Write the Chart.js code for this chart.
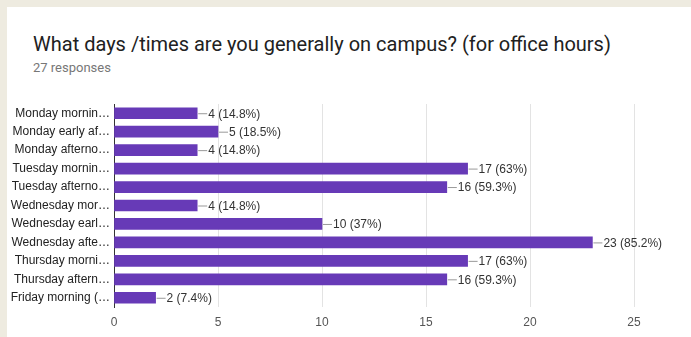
<!DOCTYPE html>
<html lang="en">
<head>
  <meta charset="UTF-8">
  <title>What days /times are you generally on campus?</title>
  <script src="https://cdn.jsdelivr.net/npm/chart.js"></script>
  <style>
    body {
      margin: 0;
      width: 691px;
      height: 337px;
      background-color: #eeebe0;
      overflow: hidden;
      position: relative;
    }
    .card {
      position: absolute;
      left: 7px;
      top: 7px;
      width: 684px;
      height: 330px;
      background: #fff;
    }
    .title {
      position: absolute;
      left: 33px;
      top: 32px;
      font-family: Roboto, sans-serif;
      font-size: 20px;
      color: #212121;
      white-space: nowrap;
    }
    .subtitle {
      position: absolute;
      left: 33px;
      top: 60px;
      font-family: Roboto, sans-serif;
      font-size: 13px;
      color: #777;
    }
    #chartWrap {
      position: absolute;
      left: 0;
      top: 0;
      width: 691px;
      height: 337px;
    }
  </style>
</head>
<body>
  <div class="card"></div>
  <div class="title">What days /times are you generally on campus? (for office hours)</div>
  <div class="subtitle">27 responses</div>
  <div id="chartWrap"><canvas id="barChart" width="691" height="337"></canvas></div>

  <script>
    const categories = [
      'Monday mornin\u2026',
      'Monday early af\u2026',
      'Monday afterno\u2026',
      'Tuesday mornin\u2026',
      'Tuesday afterno\u2026',
      'Wednesday mor\u2026',
      'Wednesday earl\u2026',
      'Wednesday afte\u2026',
      'Thursday morni\u2026',
      'Thursday aftern\u2026',
      'Friday morning (\u2026'
    ];
    const counts = [4, 5, 4, 17, 16, 4, 10, 23, 17, 16, 2];
    const percents = ['14.8%', '18.5%', '14.8%', '63%', '59.3%', '14.8%', '37%', '85.2%', '63%', '59.3%', '7.4%'];
    const xTicks = [0, 5, 10, 15, 20, 25];

    const chartFont = 'Liberation Sans, Arial, sans-serif';

    // draws the "—4 (14.8%)" labels after each bar
    const valueLabels = {
      id: 'valueLabels',
      afterDatasetsDraw(chart) {
        const ctx = chart.ctx;
        const meta = chart.getDatasetMeta(0);
        ctx.save();
        ctx.font = '12px ' + chartFont;
        ctx.textBaseline = 'middle';
        meta.data.forEach((bar, i) => {
          const x = bar.x;
          const y = bar.y;
          ctx.strokeStyle = '#999';
          ctx.lineWidth = 1;
          ctx.beginPath();
          ctx.moveTo(x + 1, y + 0.5);
          ctx.lineTo(x + 10, y + 0.5);
          ctx.stroke();
          ctx.fillStyle = '#333';
          ctx.fillText(counts[i] + ' (' + percents[i] + ')', x + 11, y + 1);
        });
        ctx.restore();
      }
    };

    const ctxBar = document.getElementById('barChart').getContext('2d');
    const barChart = new Chart(ctxBar, {
      type: 'bar',
      data: {
        labels: categories,
        datasets: [{
          data: counts,
          backgroundColor: '#673ab7',
          barThickness: 11
        }]
      },
      options: {
        indexAxis: 'y',
        responsive: false,
        animation: false,
        layout: {
          padding: { left: 0, right: 57, top: 104, bottom: 0 }
        },
        plugins: {
          legend: { display: false },
          tooltip: { enabled: false }
        },
        scales: {
          x: {
            min: 0,
            max: 25,
            afterFit(scale) { scale.height = 30; },
            afterBuildTicks(scale) { scale.ticks = xTicks.map(v => ({ value: v })); },
            grid: {
              color: ctx => ctx.tick && ctx.tick.value === 0 ? 'rgba(0,0,0,0)' : '#e3e3e3',
              drawTicks: false
            },
            border: { display: false },
            ticks: {
              padding: 8,
              color: '#555',
              font: { family: chartFont, size: 12 }
            }
          },
          y: {
            afterFit(scale) { scale.width = 114; },
            grid: { display: false, drawTicks: false },
            border: { display: true, color: '#333', width: 1 },
            ticks: {
              padding: 4,
              color: '#222',
              font: { family: chartFont, size: 12 }
            }
          }
        }
      },
      plugins: [valueLabels]
    });
  </script>
</body>
</html>
